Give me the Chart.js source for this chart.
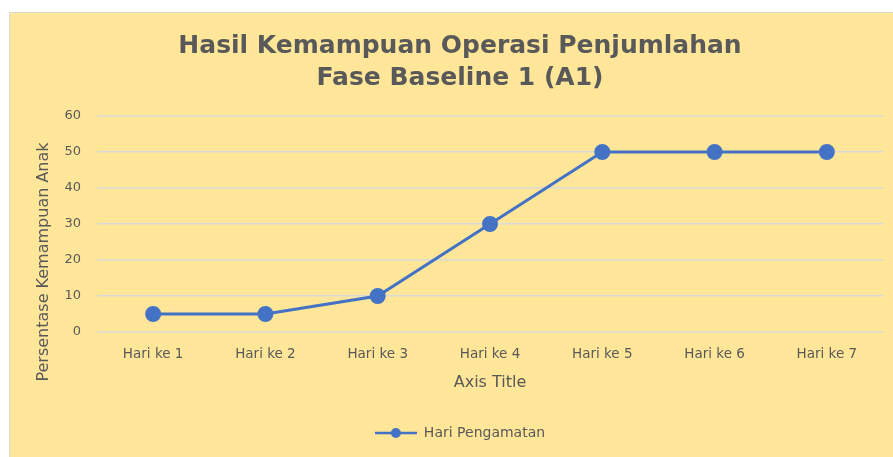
<!DOCTYPE html>
<html><head><meta charset="utf-8">
<script src="https://cdn.jsdelivr.net/npm/chart.js@4/dist/chart.umd.min.js"></script>
<style>
html,body{margin:0;padding:0;background:#fff;}
#wrap{position:absolute;left:9px;top:12px;width:884px;height:445px;background:#FFE699;border-left:1px solid #d9d9d9;border-top:1px solid #d9d9d9;}
</style></head><body>
<div id="wrap"><canvas id="c" width="884" height="444"></canvas></div>
<script>
const categories = ["Hari ke 1","Hari ke 2","Hari ke 3","Hari ke 4","Hari ke 5","Hari ke 6","Hari ke 7"];
const seriesValues = [5, 5, 10, 30, 50, 50, 50];
const seriesName = "Hari Pengamatan";
const titleLines = ["Hasil Kemampuan Operasi Penjumlahan","Fase Baseline 1 (A1)"];
const yTitle = "Persentase Kemampuan Anak";
const xTitle = "Axis Title";

const blue = "#4472C4";
const grey = "#595959";
const fam = "'DejaVu Sans', sans-serif";

const img = document.createElement('canvas');
img.width = 42; img.height = 12;
(function(){const g=img.getContext('2d');g.strokeStyle=blue;g.lineWidth=2.5;g.beginPath();g.moveTo(0,6);g.lineTo(42,6);g.stroke();g.fillStyle=blue;g.beginPath();g.arc(21,6,5,0,Math.PI*2);g.fill();})();

const yTitlePlugin = {
  id: 'yTitlePlugin',
  afterDraw(chart) {
    const ctx = chart.ctx;
    ctx.save();
    ctx.translate(34, 249);
    ctx.rotate(-Math.PI / 2);
    ctx.fillStyle = grey;
    ctx.font = "16px " + fam;
    ctx.textAlign = 'center';
    ctx.textBaseline = 'middle';
    ctx.fillText(yTitle, 0, 0);
    ctx.restore();
  }
};

new Chart(document.getElementById('c'), {
  type: 'line',
  data: { labels: categories, datasets: [{ label: seriesName, data: seriesValues, borderColor: blue, backgroundColor: blue, borderWidth: 3, pointRadius: 6.5, pointHoverRadius: 6.5, tension: 0 }] },
  plugins: [yTitlePlugin],
  options: {
    responsive: false, animation: false,
    layout: { padding: { left: 27, right: 11, top: 9, bottom: 7 } },
    plugins: {
      title: { display: true, text: titleLines, color: grey, font: { family: fam, size: 25, weight: 'bold', lineHeight: 1.28 }, padding: { top: 8, bottom: 22 } },
      legend: { position: 'bottom', labels: { usePointStyle: true, pointStyleWidth: 42, boxHeight: 12, color: grey, font: { family: fam, size: 14 },
        generateLabels: (chart) => chart.data.datasets.map((d, i) => ({ text: d.label, pointStyle: img, fillStyle: blue, strokeStyle: blue, lineWidth: 0, fontColor: grey, datasetIndex: i })) } },
      tooltip: { enabled: false }
    },
    scales: {
      x: { offset: true, grid: { display: false }, border: { display: false },
        ticks: { color: grey, font: { family: fam, size: 13.5 }, padding: 6 },
        title: { display: true, text: xTitle, color: grey, font: { family: fam, size: 16 }, padding: { top: 0, bottom: 24 } },
        afterFit: (s) => { s.height = 84; } },
      y: { min: 0, max: 60, grid: { color: '#D9D9D9', lineWidth: 1.5, drawTicks: false }, border: { display: false },
        ticks: { stepSize: 10, color: grey, font: { family: fam, size: 13 }, padding: 16 },
        afterFit: (s) => { s.width = 60; } }
    }
  }
});
</script></body></html>
